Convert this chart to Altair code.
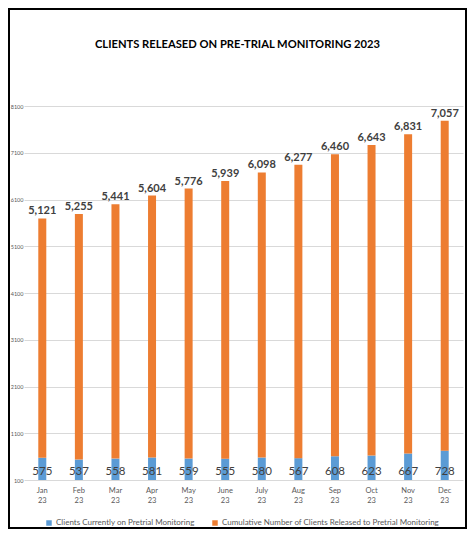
import altair as alt
import pandas as pd

months = ["Jan 23", "Feb 23", "Mar 23", "Apr 23", "May 23", "June 23",
          "July 23", "Aug 23", "Sep 23", "Oct 23", "Nov 23", "Dec 23"]
current = [575, 537, 558, 581, 559, 555, 580, 567, 608, 623, 667, 728]
cumulative = [5121, 5255, 5441, 5604, 5776, 5939, 6098, 6277, 6460, 6643, 6831, 7057]
y_ticks = [100, 1100, 2100, 3100, 4100, 5100, 6100, 7100, 8100]

series_current = "Clients Currently on Pretrial Monitoring"
series_cumul = "Cumulative Number of Clients Released to Pretrial Monitoring"

# long table for the stacked bars
rows = []
for i, m in enumerate(months):
    rows.append({"month": m, "series": series_current, "value": current[i], "order": 0})
    rows.append({"month": m, "series": series_cumul, "value": cumulative[i], "order": 1})
df = pd.DataFrame(rows)

labels = pd.DataFrame({"month": months, "current": current, "cumulative": cumulative})

W, H = 439, 374

x_enc = alt.X("month:N", sort=months, title=None,
              scale=alt.Scale(paddingInner=0, paddingOuter=0),
              axis=alt.Axis(labelAngle=0, ticks=False, domain=False,
                            labelExpr="split(datum.value, ' ')",
                            labelLineHeight=10, labelFontSize=7.5,
                            labelColor="#595959", labelPadding=6))
y_scale = alt.Scale(domain=[100, 8100], nice=False, zero=False)

bars = alt.Chart(df).mark_bar(size=8, clip=True).encode(
    x=x_enc,
    y=alt.Y("value:Q", stack="zero", scale=y_scale, title=None,
            axis=alt.Axis(values=y_ticks, format="d", ticks=False, domain=False,
                          labelFontSize=5.5, labelColor="#595959",
                          labelPadding=1, gridColor="#d9d9d9")),
    color=alt.Color("series:N",
                    scale=alt.Scale(domain=[series_current, series_cumul],
                                    range=["#5B9BD5", "#ED7D31"]),
                    legend=alt.Legend(title=None, orient="none",
                                      direction="horizontal",
                                      legendX=21, legendY=413,
                                      symbolType="square", symbolSize=30,
                                      symbolStrokeWidth=0, labelLimit=400,
                                      labelFontSize=8, labelOffset=3,
                                      labelColor="#595959",
                                      columnPadding=16)),
    order=alt.Order("order:Q"),
)

base_labels = alt.Chart(labels).mark_text(
    fontSize=11.5, color="#404040", baseline="alphabetic", dy=-5
).encode(
    x=alt.X("month:N", sort=months),
    y=alt.datum(100),
    text=alt.Text("current:Q"),
)

# cumulative value written just above the top of each stack
top_labels = alt.Chart(labels).transform_calculate(
    total="datum.current + datum.cumulative"
).mark_text(
    fontSize=11, fontWeight="bold", color="#404040", baseline="bottom", dy=-2
).encode(
    x=alt.X("month:N", sort=months),
    y=alt.Y("total:Q", stack=None),
    text=alt.Text("cumulative:Q", format=","),
)

# black border round the whole picture
frame = alt.Chart(pd.DataFrame({"f": [0]})).mark_rect(
    fill="transparent", stroke="black", strokeWidth=2
).encode(
    x=alt.value(-15), x2=alt.value(W + 3),
    y=alt.value(-97), y2=alt.value(H + 48),
)

chart = alt.layer(bars, base_labels, top_labels, frame).properties(
    width=W,
    height=H,
    autosize=alt.AutoSizeParams(type="none"),
    padding={"left": 16, "top": 98, "right": 4, "bottom": 49},
    title=alt.TitleParams("CLIENTS RELEASED ON PRE-TRIAL MONITORING 2023",
                          fontSize=11.2, fontWeight="bold", color="black",
                          anchor="middle", frame="group", baseline="alphabetic",
                          offset=-51, dx=-6),
).configure(
    font="Lato",
).configure_view(
    stroke=None,
)

chart.save("out.html", embed_options={"renderer": "svg", "actions": False})
